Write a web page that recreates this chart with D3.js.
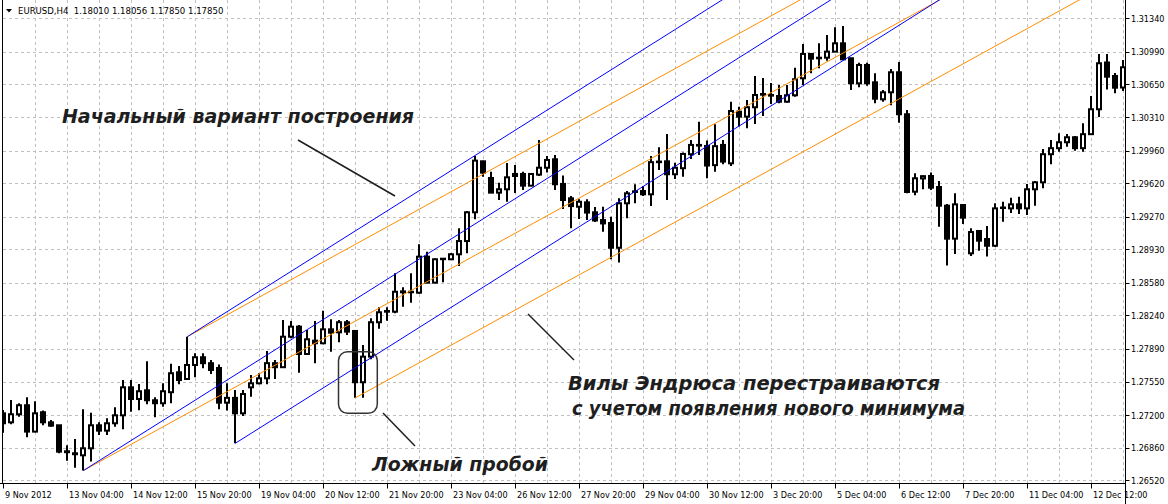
<!DOCTYPE html>
<html><head><meta charset="utf-8">
<script src="https://cdn.jsdelivr.net/npm/d3@7/dist/d3.min.js"></script>
<style>
html,body{margin:0;padding:0;background:#fff;}
svg{display:block;}
</style></head>
<body>
<svg id="chart" width="1168" height="504"></svg>
<script>
// ---------- DATA (EURUSD H4) ----------
const openP = [1.27219,1.27125,1.27209,1.27303,1.27028,1.27230,1.27125,1.27094,1.26823,1.26802,
1.26781,1.26854,1.27094,1.27038,1.27115,1.27198,1.27490,1.27368,1.27459,1.27355,
1.27324,1.27439,1.27647,1.27577,1.27723,1.27804,1.27742,1.27692,1.27330,1.27380,
1.27219,1.27490,1.27532,1.27584,1.27742,1.27700,1.28018,1.28123,1.27838,1.27977,
1.27950,1.28095,1.28064,1.28169,1.28078,1.27543,1.27810,1.28169,1.28286,1.28279,
1.28491,1.28487,1.28477,1.28853,1.28582,1.28829,1.28826,1.28878,1.29016,1.29316,
1.29848,1.29674,1.29521,1.29556,1.29695,1.29716,1.29594,1.29709,1.29781,1.29869,
1.29612,1.29462,1.29374,1.29420,1.29316,1.29235,1.29204,1.28946,1.29410,1.29535,
1.29538,1.29504,1.29845,1.29848,1.29713,1.29776,1.29922,1.30019,1.30008,1.29808,
1.30019,1.29827,1.30366,1.30314,1.30412,1.30550,1.30540,1.30529,1.30470,1.30537,
1.30714,1.30968,1.30929,1.30929,1.30992,1.31079,1.30923,1.30662,1.30853,1.30672,
1.30495,1.30568,1.30777,1.30339,1.29531,1.29669,1.29695,1.29580,1.29385,1.29041,
1.29392,1.28888,1.29121,1.29037,1.28967,1.29361,1.29357,1.29399,1.29357,1.29556,
1.29629,1.29922,1.29985,1.30047,1.30099,1.29985,1.30131,1.30391,1.30879,1.30738,
1.30618];
const highP = [1.27254,1.27358,1.27324,1.27386,1.27344,1.27247,1.27149,1.27097,1.26885,1.26951,
1.27261,1.27226,1.27125,1.27167,1.27282,1.27566,1.27566,1.27525,1.27761,1.27386,
1.27532,1.27736,1.27712,1.28018,1.27846,1.27846,1.27775,1.27727,1.27532,1.27462,
1.27462,1.27619,1.27637,1.27869,1.27775,1.28192,1.28182,1.28140,1.28088,1.28182,
1.28289,1.28199,1.28192,1.28192,1.28088,1.27932,1.28210,1.28325,1.28325,1.28679,
1.28533,1.28679,1.28982,1.28905,1.28836,1.28836,1.28888,1.29149,1.29329,1.29904,
1.29855,1.29740,1.29625,1.29831,1.29810,1.29740,1.29723,1.30071,1.29904,1.29915,
1.29701,1.29486,1.29451,1.29451,1.29371,1.29374,1.29270,1.29462,1.29538,1.29608,
1.29591,1.29904,1.29995,1.30133,1.29834,1.29939,1.30071,1.30262,1.30064,1.30235,
1.30071,1.30470,1.30418,1.30488,1.30738,1.30717,1.30665,1.30644,1.30644,1.30825,
1.31072,1.30975,1.31079,1.31166,1.31246,1.31260,1.30929,1.30877,1.30877,1.30766,
1.30592,1.30811,1.30885,1.30384,1.29723,1.29700,1.29732,1.29643,1.29402,1.29514,
1.29395,1.29149,1.29131,1.29173,1.29410,1.29426,1.29468,1.29479,1.29612,1.29643,
1.29977,1.30071,1.30141,1.30134,1.30113,1.30245,1.30529,1.30968,1.30968,1.30769,
1.30905];
const lowP = [1.27017,1.27104,1.27184,1.26969,1.27021,1.27094,1.27079,1.26802,1.26725,1.26652,
1.26621,1.26715,1.26993,1.26993,1.27079,1.27053,1.27236,1.27251,1.27313,1.27178,
1.27288,1.27324,1.27521,1.27566,1.27595,1.27689,1.27630,1.27261,1.27247,1.26906,
1.27191,1.27392,1.27521,1.27521,1.27577,1.27692,1.28001,1.27643,1.27828,1.27742,
1.27940,1.27862,1.27961,1.28036,1.27380,1.27380,1.27784,1.28102,1.28185,1.28262,
1.28331,1.28373,1.28470,1.28575,1.28575,1.28586,1.28819,1.28757,1.28888,1.29243,
1.29688,1.29521,1.29444,1.29426,1.29518,1.29549,1.29587,1.29695,1.29730,1.29549,
1.29350,1.29149,1.29246,1.29235,1.29214,1.29114,1.28826,1.28791,1.29253,1.29410,
1.29486,1.29381,1.29758,1.29444,1.29664,1.29688,1.29873,1.29915,1.29671,1.29740,
1.29818,1.29799,1.30210,1.30192,1.30238,1.30321,1.30446,1.30453,1.30460,1.30522,
1.30644,1.30766,1.30818,1.30898,1.30988,1.30905,1.30592,1.30620,1.30637,1.30453,
1.30470,1.30432,1.30249,1.29514,1.29493,1.29556,1.29549,1.29166,1.28762,1.28881,
1.29194,1.28860,1.28916,1.28856,1.28957,1.29217,1.29309,1.29298,1.29288,1.29385,
1.29567,1.29817,1.29947,1.29999,1.29957,1.29947,1.30131,1.30310,1.30597,1.30558,
1.30582];
const closeP = [1.27115,1.27209,1.27303,1.27028,1.27219,1.27125,1.27090,1.26819,1.26813,1.26792,
1.26854,1.27094,1.27038,1.27115,1.27198,1.27490,1.27368,1.27449,1.27355,1.27324,
1.27449,1.27637,1.27566,1.27723,1.27804,1.27742,1.27671,1.27330,1.27380,1.27219,
1.27420,1.27532,1.27584,1.27742,1.27700,1.28018,1.28123,1.27838,1.27991,1.27950,
1.28095,1.28060,1.28169,1.28071,1.27543,1.27810,1.28169,1.28273,1.28279,1.28487,
1.28481,1.28484,1.28853,1.28582,1.28826,1.28832,1.28878,1.29016,1.29316,1.29855,
1.29730,1.29521,1.29556,1.29681,1.29716,1.29594,1.29716,1.29781,1.29862,1.29609,
1.29444,1.29381,1.29426,1.29313,1.29231,1.29200,1.28946,1.29410,1.29514,1.29528,
1.29504,1.29839,1.29839,1.29713,1.29781,1.29925,1.30019,1.30012,1.29804,1.30006,
1.29845,1.30373,1.30314,1.30412,1.30540,1.30543,1.30533,1.30470,1.30537,1.30704,
1.30968,1.30919,1.30923,1.30992,1.31079,1.30912,1.30662,1.30853,1.30662,1.30501,
1.30568,1.30777,1.30339,1.29528,1.29671,1.29693,1.29573,1.29385,1.29041,1.29399,
1.29260,1.29110,1.29020,1.28967,1.29357,1.29366,1.29399,1.29357,1.29556,1.29629,
1.29922,1.29985,1.30047,1.30099,1.29985,1.30131,1.30391,1.30871,1.30731,1.30616,
1.30829];

const timeTickBars   = [0,8,16,24,32,40,48,56,64,72,80,88,96,104,112,120,128,136];
const timeTickLabels = ["9 Nov 2012","13 Nov 04:00","14 Nov 12:00","15 Nov 20:00","19 Nov 04:00",
  "20 Nov 12:00","21 Nov 20:00","23 Nov 04:00","26 Nov 12:00","27 Nov 20:00","29 Nov 04:00",
  "30 Nov 12:00","3 Dec 20:00","5 Dec 04:00","6 Dec 12:00","7 Dec 20:00","11 Dec 04:00","12 Dec 12:00"];
const priceTicks = [1.31340,1.30990,1.30650,1.30310,1.29960,1.29620,1.29270,1.28930,
  1.28580,1.28240,1.27890,1.27550,1.27200,1.26860,1.26520];
const priceTickLabels = priceTicks.map(v => v.toFixed(5));

// Andrews' pitchforks: [pivot (low), high, low] bar indices
const pitchforkInitial = [10, 23, 29];
const pitchforkRebuilt = [10, 23, 44];

const titleSymbol = "EURUSD,H4";
const titleQuote  = "1.18010 1.18056 1.17850 1.17850";
const noteInitial = "Начальный вариант построения";
const noteFalse   = "Ложный пробой";
const noteRebuilt = ["Вилы Эндрюса перестраиваются", "с учетом появления нового минимума"];

// ---------- LAYOUT ----------
const W = 1168, H = 504;
const plotRight = 1125.5, plotBottom = 483.5;
const svg = d3.select("#chart");
svg.append("rect").attr("width", W).attr("height", H).attr("fill", "#fff");

const x = d3.scaleLinear().domain([0, 140]).range([3.3, 1123.3]);
const y = d3.scaleLinear().domain([1.26520, 1.31340]).range([480.3, 18.3]);
const xs = i => Math.round(x(i));

svg.append("clipPath").attr("id", "plotClip")
  .append("rect").attr("x", 2).attr("y", 0).attr("width", plotRight - 2).attr("height", plotBottom);

// gridlines
const grid = svg.append("g").attr("stroke", "#c0c0c0").attr("stroke-dasharray", "3,3").attr("stroke-width", 1);
grid.selectAll("line.h").data(priceTicks).join("line").attr("class", "h")
  .attr("x1", 3).attr("x2", plotRight)
  .attr("y1", d => Math.round(y(d)) + 0.5).attr("y2", d => Math.round(y(d)) + 0.5);
grid.selectAll("line.v").data(d3.range(4, 141, 4)).join("line").attr("class", "v")
  .attr("x1", d => xs(d) + 0.5).attr("x2", d => xs(d) + 0.5)
  .attr("y1", 0).attr("y2", plotBottom);

// candles
const bars = d3.range(openP.length);
const cg = svg.append("g").attr("clip-path", "url(#plotClip)");
cg.selectAll("line.wick").data(bars).join("line").attr("class", "wick")
  .attr("x1", i => xs(i)).attr("x2", i => xs(i))
  .attr("y1", i => y(highP[i])).attr("y2", i => y(lowP[i]))
  .attr("stroke", "#000").attr("stroke-width", 2);
cg.selectAll("rect.body").data(bars).join("rect").attr("class", "body")
  .attr("x", i => xs(i) - 2).attr("width", 4)
  .attr("y", i => y(Math.max(openP[i], closeP[i])))
  .attr("height", i => Math.max(0.5, Math.abs(y(openP[i]) - y(closeP[i]))))
  .attr("fill", i => closeP[i] >= openP[i] ? "#fff" : "#000")
  .attr("stroke", "#000").attr("stroke-width", 2);

// pitchforks
function pitchfork(idx, color) {
  const A = [x(idx[0]), y(lowP[idx[0]])];
  const B = [x(idx[1]), y(highP[idx[1]])];
  const C = [x(idx[2]), y(lowP[idx[2]])];
  const M = [(B[0] + C[0]) / 2, (B[1] + C[1]) / 2];
  const d = [M[0] - A[0], M[1] - A[1]];
  const g = svg.append("g").attr("clip-path", "url(#plotClip)");
  [A, B, C].forEach(P => {
    g.append("line")
      .attr("x1", P[0]).attr("y1", P[1])
      .attr("x2", P[0] + d[0] * 30).attr("y2", P[1] + d[1] * 30)
      .attr("stroke", color).attr("stroke-width", 1);
  });
}
pitchfork(pitchforkRebuilt, "#ff8c00");
pitchfork(pitchforkInitial, "#0000ff");

// axes
const axisFont = "'DejaVu Sans Condensed','DejaVu Sans',sans-serif";
const ax = svg.append("g");
ax.append("line").attr("x1", 2.5).attr("x2", 2.5).attr("y1", 0).attr("y2", plotBottom).attr("stroke", "#000");
ax.append("line").attr("x1", plotRight).attr("x2", plotRight).attr("y1", 0).attr("y2", H).attr("stroke", "#000");
ax.append("line").attr("x1", 0).attr("x2", plotRight).attr("y1", plotBottom).attr("y2", plotBottom).attr("stroke", "#000");

ax.selectAll("line.pt").data(priceTicks).join("line").attr("class", "pt")
  .attr("x1", plotRight).attr("x2", plotRight + 4)
  .attr("y1", d => Math.round(y(d)) + 0.5).attr("y2", d => Math.round(y(d)) + 0.5)
  .attr("stroke", "#000");
ax.selectAll("text.pt").data(priceTicks).join("text").attr("class", "pt")
  .attr("x", 1131).attr("y", d => y(d) + 3.5)
  .attr("font-family", axisFont).attr("font-size", 9).attr("fill", "#000")
  .text((d, i) => priceTickLabels[i]);

ax.selectAll("line.tt").data(timeTickBars).join("line").attr("class", "tt")
  .attr("x1", i => xs(i) + 0.5).attr("x2", i => xs(i) + 0.5)
  .attr("y1", plotBottom).attr("y2", plotBottom + 5).attr("stroke", "#000");
ax.selectAll("text.tt").data(timeTickBars).join("text").attr("class", "tt")
  .attr("x", i => xs(i) + 2).attr("y", 498)
  .attr("font-family", axisFont).attr("font-size", 9).attr("fill", "#000")
  .text((d, i) => timeTickLabels[i]);

// title
svg.append("path").attr("d", "M6,9 L12,9 L9,12.5 Z").attr("fill", "#000");
svg.append("text").attr("x", 18).attr("y", 13.5)
  .attr("font-family", axisFont).attr("font-size", 9.5).attr("fill", "#000")
  .attr("xml:space", "preserve")
  .text(titleSymbol + "  " + titleQuote);

// annotations
const noteFont = "'DejaVu Sans',sans-serif";
const notes = svg.append("g").attr("font-family", noteFont).attr("font-weight", "bold")
  .attr("font-style", "italic").attr("font-size", 19).attr("fill", "#1e1e1e");
notes.append("text").attr("x", 62).attr("y", 122.5).attr("textLength", 352).attr("lengthAdjust", "spacingAndGlyphs").text(noteInitial);
notes.append("text").attr("x", 372).attr("y", 470.5).attr("textLength", 176).attr("lengthAdjust", "spacingAndGlyphs").text(noteFalse);
notes.append("text").attr("x", 568).attr("y", 389.5).attr("textLength", 372).attr("lengthAdjust", "spacingAndGlyphs").text(noteRebuilt[0]);
notes.append("text").attr("x", 572).attr("y", 414.5).attr("textLength", 393).attr("lengthAdjust", "spacingAndGlyphs").text(noteRebuilt[1]);

const lead = svg.append("g").attr("stroke", "#1e1e1e").attr("stroke-width", 1.5);
lead.append("line").attr("x1", 298).attr("y1", 140).attr("x2", 395).attr("y2", 196);
lead.append("line").attr("x1", 383).attr("y1", 413).attr("x2", 415).attr("y2", 446);
lead.append("line").attr("x1", 528).attr("y1", 314).attr("x2", 574).attr("y2", 360);

// highlight box around false breakout (bars 42..46)
svg.append("rect")
  .attr("x", x(41.9)).attr("y", 351.7)
  .attr("width", x(46.75) - x(41.9)).attr("height", 61.6)
  .attr("rx", 9).attr("ry", 9)
  .attr("fill", "none").attr("stroke", "#333").attr("stroke-width", 1.5);
</script>
</body></html>
